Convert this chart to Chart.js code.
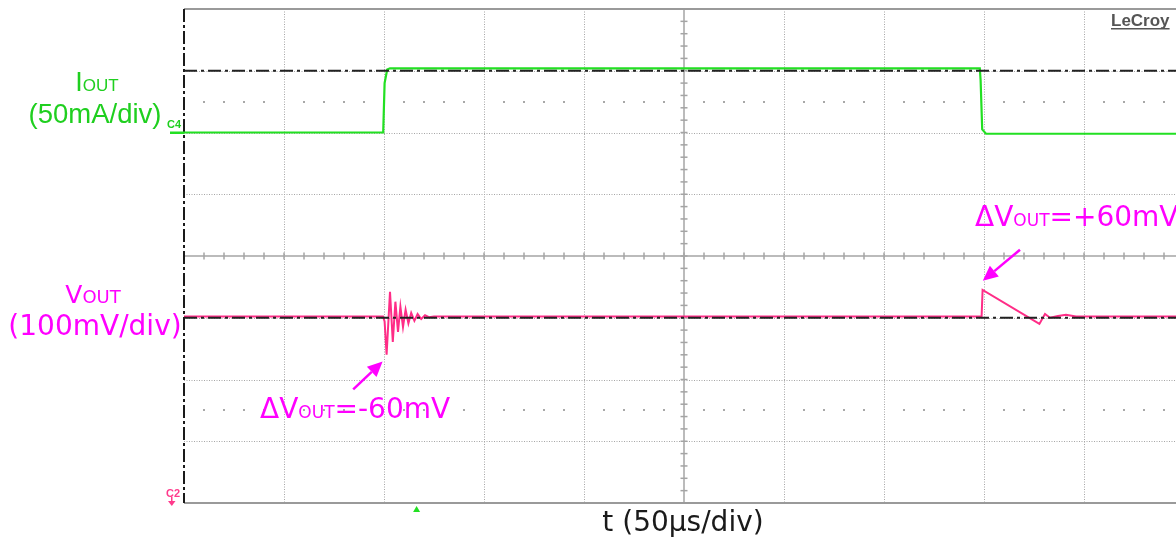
<!DOCTYPE html>
<html>
<head>
<meta charset="utf-8">
<script src="https://cdn.jsdelivr.net/npm/chart.js@4/dist/chart.umd.min.js"></script>
<style>
  html, body { margin: 0; padding: 0; background: #fff; overflow: hidden; }
  #wrap { width: 1200px; height: 538px; }
</style>
</head>
<body>
<div id="wrap"><canvas id="c" width="1200" height="538"></canvas></div>
<script>
// ---- data (time in µs, amplitude in screen divisions) ----
const ioutTimeUs = [0, 60, 99.6, 100.3, 101.6, 103, 200, 300, 397.9, 398.3, 399.1, 401, 450, 500];
const ioutDiv    = [2.0, 2.0, 2.0, 2.8, 3.02, 3.04, 3.04, 3.04, 3.04, 2.85, 2.05, 1.98, 1.98, 1.98];

const voutTimeUs = [0, 99.5, 100.3, 101.3, 103.0, 104.4, 105.7, 107.0, 108.2, 109.5, 110.8, 112.2, 113.6, 115.2, 116.8, 118.6, 120.5, 122.5, 125, 250, 398.8, 399.3, 427.7, 430.5, 433, 437, 441, 446, 500];
const voutDiv    = [-0.98, -0.98, -1.06, -1.60, -0.58, -1.39, -0.74, -1.23, -0.82, -1.15, -0.87, -1.09, -0.92, -1.05, -0.94, -1.02, -0.96, -0.99, -0.98, -0.98, -0.98, -0.55, -1.10, -0.94, -1.0, -0.97, -0.95, -0.98, -0.98];

const refLevelsDiv = [3, -1];          // black dash-dot reference levels (IOUT high, VOUT nominal)
const timeRangeUs = [0, 500];          // 10 divisions x 50 µs
const divRange = [-4, 4];              // 8 vertical divisions
const xTickStepUs = 50;
const yTickStepDiv = 1;

const labels = {
  iMain: 'I', iSub: 'OUT', iScale: '(50mA/div)',
  vMain: 'V', vSub: 'OUT', vScale: '(100mV/div)',
  dropMain: 'ΔV', dropSub: 'OUT', dropVal: '=-60mV',
  riseMain: 'ΔV', riseSub: 'OUT', riseVal: '=+60mV',
  xTitle: 't (50µs/div)', brand: 'LeCroy', ch4: 'C4', ch2: 'C2'
};

const GREEN = '#22e022';
const GREEN_TXT = '#1fcf1f';
const MAGENTA_TR = '#ff2d87';
const MAGENTA_TXT = '#ff00ff';

const toXY = (xs, ys) => xs.map((x, i) => ({ x, y: ys[i] }));

const graticule = {
  id: 'graticule',
  beforeDatasetsDraw(chart) {
    const { ctx, chartArea: a, scales: { x, y } } = chart;
    ctx.save();
    // dotted grid
    ctx.lineWidth = 1;
    ctx.strokeStyle = '#a6a6a6';
    ctx.setLineDash([1, 1.5]);
    for (let t = timeRangeUs[0] + xTickStepUs; t < timeRangeUs[1]; t += xTickStepUs) {
      if (t === 250) continue;
      const px = Math.round(x.getPixelForValue(t)) + 0.5;
      ctx.beginPath(); ctx.moveTo(px, a.top); ctx.lineTo(px, a.bottom); ctx.stroke();
    }
    for (let d = divRange[0] + yTickStepDiv; d < divRange[1]; d += yTickStepDiv) {
      if (d === 0) continue;
      const py = Math.round(y.getPixelForValue(d)) + 0.5;
      ctx.beginPath(); ctx.moveTo(a.left, py); ctx.lineTo(a.right, py); ctx.stroke();
    }
    ctx.setLineDash([]);
    // dot rows at ±2.5 div
    ctx.fillStyle = '#a8a8a8';
    [2.5, -2.5].forEach(d => {
      const py = Math.round(y.getPixelForValue(d));
      for (let t = 10; t < 500; t += 10) {
        if (t % 50 === 0) continue;
        const px = Math.round(x.getPixelForValue(t));
        ctx.fillRect(px - 1, py - 1, 2, 2);
      }
    });
    // center cross with minor ticks
    ctx.strokeStyle = '#a4a4a4';
    ctx.lineWidth = 1.5;
    const cx = x.getPixelForValue(250), cy = y.getPixelForValue(0);
    ctx.beginPath(); ctx.moveTo(a.left, cy); ctx.lineTo(a.right, cy); ctx.stroke();
    ctx.beginPath(); ctx.moveTo(cx, a.top); ctx.lineTo(cx, a.bottom); ctx.stroke();
    for (let t = 10; t < 500; t += 10) {
      const px = x.getPixelForValue(t);
      ctx.beginPath(); ctx.moveTo(px, cy - 3.5); ctx.lineTo(px, cy + 3.5); ctx.stroke();
    }
    for (let d = -3.8; d < 3.9; d += 0.2) {
      const py = y.getPixelForValue(d);
      ctx.beginPath(); ctx.moveTo(cx - 3.5, py); ctx.lineTo(cx + 3.5, py); ctx.stroke();
    }
    // frame
    ctx.strokeStyle = '#9a9a9a';
    ctx.lineWidth = 2;
    ctx.beginPath(); ctx.moveTo(a.left, a.top); ctx.lineTo(a.right, a.top); ctx.stroke();
    ctx.beginPath(); ctx.moveTo(a.left, a.bottom); ctx.lineTo(a.right, a.bottom); ctx.stroke();
    // left edge: dark dash-dot
    ctx.strokeStyle = '#1a1a1a';
    ctx.lineWidth = 2;
    ctx.setLineDash([13, 3, 3, 3]);
    ctx.beginPath(); ctx.moveTo(a.left, a.top); ctx.lineTo(a.left, a.bottom); ctx.stroke();
    ctx.restore();
  },
  afterDraw(chart) {
    const { ctx, chartArea: a, scales: { x, y } } = chart;
    ctx.save();
    ctx.textBaseline = 'alphabetic';
    ctx.textAlign = 'left';

    function comp(parts, cxCenter, base, color, align) {
      let w = 0;
      parts.forEach(p => { ctx.font = p.font; w += ctx.measureText(p.t).width; });
      let sx = align === 'left' ? cxCenter : cxCenter - w / 2;
      ctx.fillStyle = color;
      parts.forEach(p => { ctx.font = p.font; ctx.fillText(p.t, sx, base); sx += ctx.measureText(p.t).width; });
    }

    // IOUT label
    comp([{ t: labels.iMain, font: '27px "Liberation Sans"' }, { t: labels.iSub, font: '17px "Liberation Sans"' }], 97, 91, GREEN_TXT);
    comp([{ t: labels.iScale, font: '27.5px "Liberation Sans"' }], 95, 123, GREEN_TXT);
    // VOUT label
    comp([{ t: labels.vMain, font: '25px "DejaVu Sans"' }, { t: labels.vSub, font: '18px "DejaVu Sans"' }], 93, 303, MAGENTA_TXT);
    comp([{ t: labels.vScale, font: '28px "DejaVu Sans"' }], 95, 335, MAGENTA_TXT);

    // delta annotations
    comp([{ t: labels.dropMain, font: '28px "DejaVu Sans"' }, { t: labels.dropSub, font: '17px "DejaVu Sans"' }, { t: labels.dropVal, font: '28px "DejaVu Sans"' }],
      x.getPixelForValue(38), y.getPixelForValue(-2.62), MAGENTA_TXT, 'left');
    comp([{ t: labels.riseMain, font: '28px "DejaVu Sans"' }, { t: labels.riseSub, font: '17px "DejaVu Sans"' }, { t: labels.riseVal, font: '28px "DejaVu Sans"' }],
      x.getPixelForValue(395.5), y.getPixelForValue(0.49), MAGENTA_TXT, 'left');

    function arrow(t0, d0, t1, d1) {
      const x0 = x.getPixelForValue(t0), y0 = y.getPixelForValue(d0);
      const x1 = x.getPixelForValue(t1), y1 = y.getPixelForValue(d1);
      const ang = Math.atan2(y1 - y0, x1 - x0);
      const hl = 15, hw = 7;
      const bx = x1 - hl * Math.cos(ang), by = y1 - hl * Math.sin(ang);
      ctx.strokeStyle = MAGENTA_TXT; ctx.fillStyle = MAGENTA_TXT; ctx.lineWidth = 2.5;
      ctx.beginPath(); ctx.moveTo(x0, y0); ctx.lineTo(bx, by); ctx.stroke();
      ctx.beginPath();
      ctx.moveTo(x1, y1);
      ctx.lineTo(bx + hw * Math.sin(ang), by - hw * Math.cos(ang));
      ctx.lineTo(bx - hw * Math.sin(ang), by + hw * Math.cos(ang));
      ctx.closePath(); ctx.fill();
    }
    arrow(84.6, -2.16, 99.3, -1.71);
    arrow(418, 0.1, 399.4, -0.40);

    // x title
    ctx.fillStyle = '#1a1a1a';
    ctx.font = '28px "DejaVu Sans"';
    ctx.textAlign = 'center';
    ctx.fillText(labels.xTitle, x.getPixelForValue(249.5), 531);

    // brand
    ctx.textAlign = 'left';
    ctx.fillStyle = '#555';
    ctx.font = 'bold 17px "Liberation Sans"';
    ctx.fillText(labels.brand, 1111, 26);
    ctx.fillRect(1111, 28, ctx.measureText(labels.brand).width, 1.5);

    // channel markers
    const c4y = y.getPixelForValue(2.0);
    ctx.fillStyle = GREEN;
    ctx.fillRect(170, c4y - 1, a.left - 170, 2.5);
    ctx.font = 'bold 11px "Liberation Sans"';
    ctx.fillStyle = GREEN_TXT;
    ctx.fillText(labels.ch4, 167, c4y - 5);
    ctx.fillStyle = '#ff3a8c';
    ctx.fillText(labels.ch2, 166, 497);
    ctx.fillRect(171, 497, 1.5, 5);
    ctx.beginPath(); ctx.moveTo(168, 501); ctx.lineTo(175.5, 501); ctx.lineTo(171.8, 506); ctx.closePath(); ctx.fill();

    // trigger position marker
    const tx = x.getPixelForValue(116.3);
    ctx.fillStyle = GREEN;
    ctx.beginPath(); ctx.moveTo(tx, a.bottom + 3); ctx.lineTo(tx + 3.5, a.bottom + 9); ctx.lineTo(tx - 3.5, a.bottom + 9); ctx.closePath(); ctx.fill();
    ctx.restore();
  }
};

new Chart(document.getElementById('c'), {
  type: 'line',
  data: {
    datasets: [
      { label: 'IOUT ref', data: toXY(timeRangeUs, [refLevelsDiv[0], refLevelsDiv[0]]), borderColor: '#222', borderWidth: 1.8, borderDash: [13, 4, 3, 4], pointRadius: 0, order: 0 },
      { label: 'VOUT ref', data: toXY(timeRangeUs, [refLevelsDiv[1], refLevelsDiv[1]]), borderColor: '#222', borderWidth: 1.8, borderDash: [13, 4, 3, 4], pointRadius: 0, order: 0 },
      { label: 'IOUT', data: toXY(ioutTimeUs, ioutDiv), borderColor: GREEN, borderWidth: 2.2, pointRadius: 0, tension: 0, order: 1 },
      { label: 'VOUT', data: toXY(voutTimeUs, voutDiv), borderColor: MAGENTA_TR, borderWidth: 2, pointRadius: 0, tension: 0, order: 1 }
    ]
  },
  options: {
    responsive: false,
    animation: false,
    events: [],
    layout: { padding: { left: 184, top: 9, right: 16, bottom: 35 } },
    plugins: { legend: { display: false }, tooltip: { enabled: false } },
    scales: {
      x: { type: 'linear', min: timeRangeUs[0], max: timeRangeUs[1], display: false },
      y: { type: 'linear', min: divRange[0], max: divRange[1], display: false }
    }
  },
  plugins: [graticule]
});
</script>
</body>
</html>
